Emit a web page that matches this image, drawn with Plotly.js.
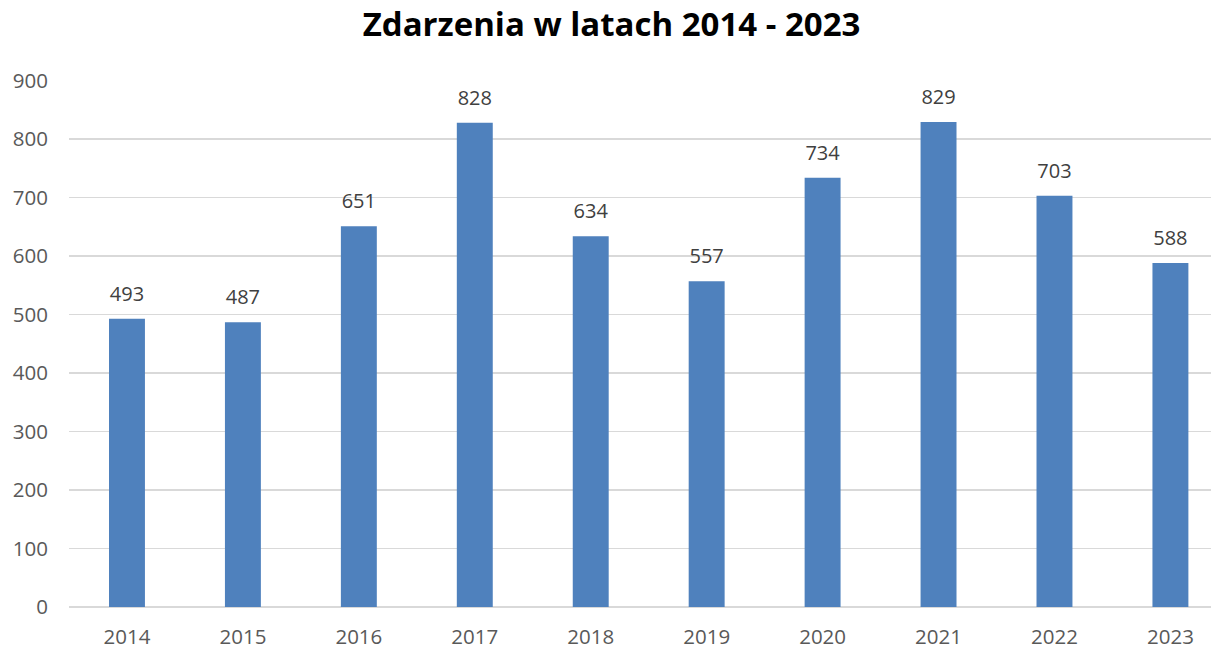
<!DOCTYPE html>
<html>
<head>
<meta charset="utf-8">
<script src="https://cdn.plot.ly/plotly-3.0.1.min.js"></script>
<style>html,body{margin:0;padding:0;overflow:hidden;background:#fff;}</style>
</head>
<body>
<div id="chart" style="width:1211px;height:649px;"></div>
<script>
const years = ['2014','2015','2016','2017','2018','2019','2020','2021','2022','2023'];
const values = [493, 487, 651, 828, 634, 557, 734, 829, 703, 588];
const yTicks = [0,100,200,300,400,500,600,700,800,900];

const font = "Open Sans, Noto Sans, sans-serif";

const bars = {
  type: 'bar',
  x: years,
  y: values,
  width: 0.31,
  marker: {color: '#4F81BD'},
  hoverinfo: 'x+y'
};

const labels = {
  type: 'scatter',
  mode: 'markers+text',
  x: years,
  y: values,
  text: values.map(String),
  textposition: 'top center',
  textfont: {family: font, size: 20, color: '#404040'},
  marker: {size: 19, opacity: 0},
  hoverinfo: 'skip',
  cliponaxis: false
};

const layout = {
  width: 1211, height: 649,
  margin: {l: 69, r: 0, t: 80, b: 42},
  paper_bgcolor: '#fff', plot_bgcolor: '#fff',
  title: {text: '<b>Zdarzenia w latach 2014 - 2023</b>', x: 0.505, xanchor: 'center', y: 0.962, yanchor: 'middle',
          font: {family: font, size: 33, color: '#000'}},
  xaxis: {type: 'category', range: [-0.5, 9.35], showgrid: false, showline: false, zeroline: false,
          ticks: '', ticklabelstandoff: 15,
          tickfont: {family: font, size: 20.5, color: '#595959'}},
  yaxis: {range: [0, 901], tickvals: yTicks, ticktext: yTicks.map(String),
          showgrid: true, gridcolor: '#D9D9D9', gridwidth: 1.3,
          zeroline: true, zerolinecolor: '#D9D9D9', zerolinewidth: 1.3,
          showline: false, ticks: '', ticklabelstandoff: 20,
          tickfont: {family: font, size: 20.5, color: '#595959'}},
  showlegend: false
};

Plotly.newPlot('chart', [bars, labels], layout, {displayModeBar: false, staticPlot: true});
</script>
</body>
</html>
